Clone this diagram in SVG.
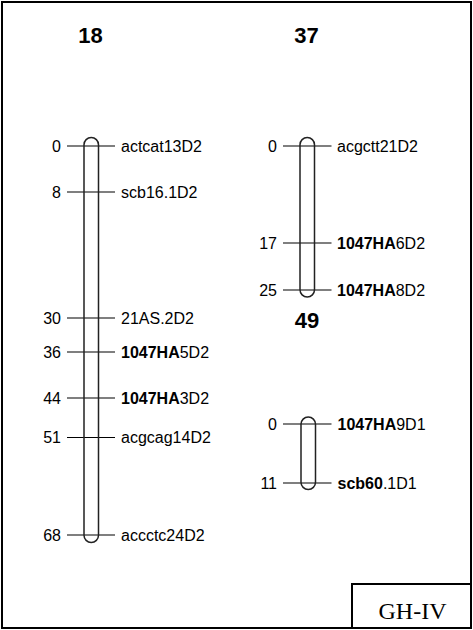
<svg xmlns="http://www.w3.org/2000/svg" width="473" height="630" viewBox="0 0 473 630">
<style>
.t{font-family:"Liberation Sans",Arial,sans-serif;font-size:16px;fill:#000}
.n{text-anchor:end}
.h{font-family:"Liberation Sans",Arial,sans-serif;font-size:22px;font-weight:bold;text-anchor:middle}
.b{font-weight:bold}
.bar{fill:none;stroke:#222;stroke-width:1.5}
.tk{stroke:#000;stroke-width:1.2}
</style>
<rect x="0" y="0" width="473" height="630" fill="#fff"/>
<rect x="2" y="2" width="469" height="626" fill="none" stroke="#000" stroke-width="2"/>
<g id="connectors">
<line class="tk" x1="67" y1="146" x2="115" y2="146"/>
<line class="tk" x1="67" y1="192" x2="115" y2="192"/>
<line class="tk" x1="67" y1="318" x2="115" y2="318"/>
<line class="tk" x1="67" y1="352" x2="115" y2="352"/>
<line class="tk" x1="67" y1="398" x2="115" y2="398"/>
<line class="tk" x1="67" y1="437.5" x2="115" y2="437.5"/>
<line class="tk" x1="67" y1="535" x2="115" y2="535"/>
<line class="tk" x1="283" y1="146" x2="331.5" y2="146"/>
<line class="tk" x1="283" y1="243" x2="331.5" y2="243"/>
<line class="tk" x1="283" y1="290" x2="331.5" y2="290"/>
<line class="tk" x1="283" y1="424" x2="331.5" y2="424"/>
<line class="tk" x1="283" y1="483" x2="331.5" y2="483"/>
</g>
<g id="chr18">
<text class="h" x="90.5" y="42.5">18</text>
<rect class="bar" x="84" y="137.5" width="14.5" height="405" rx="7.25"/>
<text class="t n" x="61" y="151.7">0</text><text class="t" x="121" y="151.7">actcat13D2</text>
<text class="t n" x="61" y="197.7">8</text><text class="t" x="121" y="197.7">scb16.1D2</text>
<text class="t n" x="61" y="323.7">30</text><text class="t" x="121" y="323.7">21AS.2D2</text>
<text class="t n" x="61" y="357.7">36</text><text class="t" x="121" y="357.7"><tspan class="b">1047HA</tspan>5D2</text>
<text class="t n" x="61" y="403.7">44</text><text class="t" x="121" y="403.7"><tspan class="b">1047HA</tspan>3D2</text>
<text class="t n" x="61" y="443.2">51</text><text class="t" x="121" y="443.2">acgcag14D2</text>
<text class="t n" x="61" y="540.7">68</text><text class="t" x="121" y="540.7">accctc24D2</text>
</g>
<g id="chr37">
<text class="h" x="306.5" y="42.5">37</text>
<rect class="bar" x="300" y="137.5" width="14.5" height="159.5" rx="7.25"/>
<text class="t n" x="277" y="151.7">0</text><text class="t" x="337" y="151.7">acgctt21D2</text>
<text class="t n" x="277" y="248.7">17</text><text class="t" x="337" y="248.7"><tspan class="b">1047HA</tspan>6D2</text>
<text class="t n" x="277" y="295.7">25</text><text class="t" x="337" y="295.7"><tspan class="b">1047HA</tspan>8D2</text>
</g>
<g id="chr49">
<text class="h" x="307" y="328">49</text>
<rect class="bar" x="301" y="417" width="14.5" height="72.5" rx="7.25"/>
<text class="t n" x="277" y="429.7">0</text><text class="t" x="337.5" y="429.7"><tspan class="b">1047HA</tspan>9D1</text>
<text class="t n" x="277" y="488.7">11</text><text class="t" x="337.5" y="488.7"><tspan class="b">scb60</tspan>.1D1</text>
</g>
<g id="label">
<path d="M352 628V584H471" fill="none" stroke="#000" stroke-width="2"/>
<text x="412.5" y="619" font-family="Liberation Serif,Times New Roman,serif" font-size="24" text-anchor="middle">GH-IV</text>
</g>
</svg>
